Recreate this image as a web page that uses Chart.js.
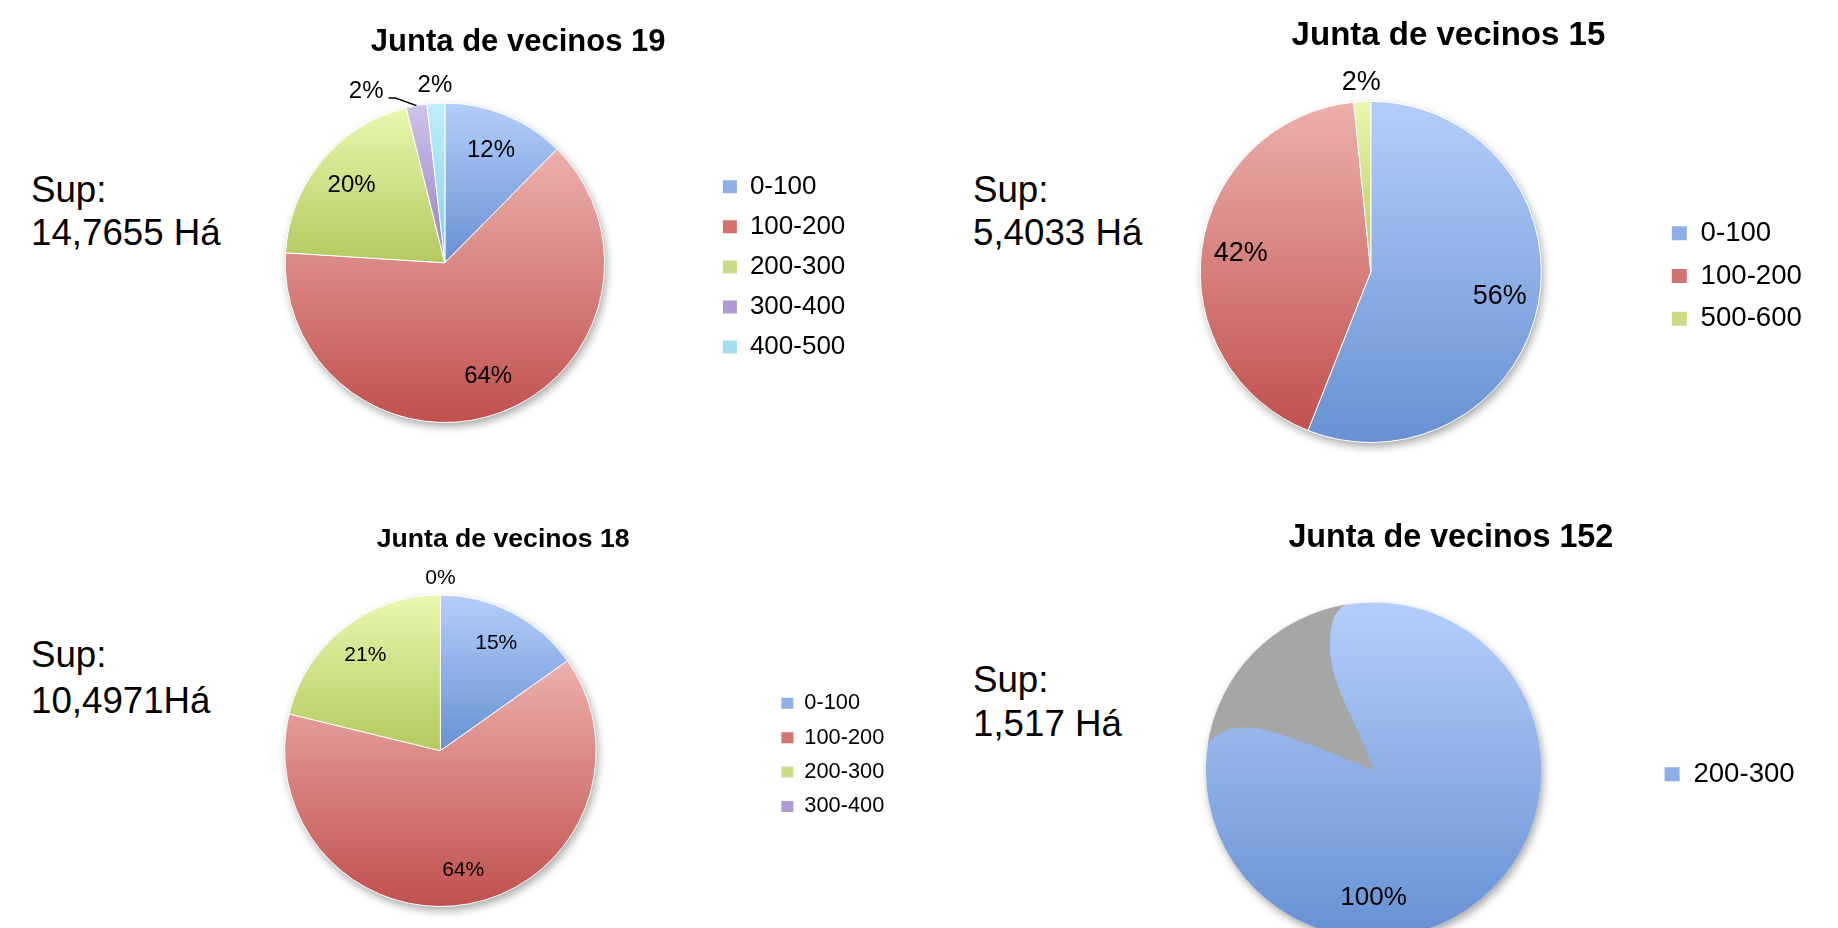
<!DOCTYPE html>
<html>
<head>
<meta charset="utf-8">
<script src="https://cdn.jsdelivr.net/npm/chart.js@4.4.1/dist/chart.umd.min.js"></script>
<style>
  html, body { margin: 0; padding: 0; background: #fff; overflow: hidden; width: 1838px; height: 928px; }
  canvas { position: absolute; }
  .sup { position: absolute; font-family: 'Liberation Sans', Arial, sans-serif; font-size: 36.7px; color: #000; white-space: nowrap; }
</style>
</head>
<body>
<div class="sup" id="sup19" style="left:31px;top:168px;line-height:43px"></div>
<div class="sup" id="sup15" style="left:973px;top:168px;line-height:43px"></div>
<div class="sup" id="sup18" style="left:31px;top:632px;line-height:46px"></div>
<div class="sup" id="sup152" style="left:973px;top:658px;line-height:44px"></div>
<canvas id="c19"></canvas>
<canvas id="c15"></canvas>
<canvas id="c18"></canvas>
<canvas id="c152"></canvas>
<script>
var FONT = "'Liberation Sans', Arial, sans-serif";

// data (percent of surface per range)
var labels19 = ['0-100', '100-200', '200-300', '300-400', '400-500'];
var values19 = [12.4, 63.6, 20.1, 2.1, 1.8];
var labels15 = ['0-100', '100-200', '500-600'];
var values15 = [56.0, 42.4, 1.6];
var labels18 = ['0-100', '100-200', '200-300', '300-400'];
var values18 = [15.2, 63.6, 21.2, 0];
var labels152 = ['200-300'];
var values152 = [100];

var titles = ['Junta de vecinos 19', 'Junta de vecinos 15', 'Junta de vecinos 18', 'Junta de vecinos 152'];
var surfaces = ['14,7655 Há', '5,4033 Há', '10,4971Há', '1,517 Há'];

// light top / dark bottom per series position, plus a flat tone for the legend box
var palette = [
  ['#b4cefa', '#6791d3', '#8eaee6'],
  ['#edb0ad', '#c0504d', '#d4726f'],
  ['#e9f8ae', '#b3c95f', '#cadd86'],
  ['#d0c3eb', '#9480c2', '#ae9bd6'],
  ['#bfeffb', '#84d0e5', '#a3def0']
];

function sum(arr) {
  var t = 0;
  for (var i = 0; i < arr.length; i++) t += arr[i];
  return t;
}

function sliceGradient(context) {
  var i = context.dataIndex;
  var chart = context.chart;
  var area = chart.chartArea;
  if (i === undefined) return palette[0][2];
  var pal = palette[i];
  if (!area) return pal[2];
  var vals = context.dataset.data;
  var total = sum(vals);
  var before = sum(vals.slice(0, i));
  var a0 = before / total * Math.PI * 2;
  var a1 = (before + vals[i]) / total * Math.PI * 2;
  var cx = (area.left + area.right) / 2;
  var cy = (area.top + area.bottom) / 2;
  var r = Math.min(area.right - area.left, area.bottom - area.top) / 2;
  var ys = [cy - r * Math.cos(a0), cy - r * Math.cos(a1)];
  if (a1 - a0 < Math.PI * 2 - 1e-6) ys.push(cy);
  if (a1 >= Math.PI * 2 - 1e-6) ys.push(cy - r);
  if (a0 <= Math.PI && a1 >= Math.PI) ys.push(cy + r);
  var top = Math.min.apply(null, ys);
  var bottom = Math.max.apply(null, ys);
  if (bottom - top < 1) bottom = top + 1;
  var g = chart.ctx.createLinearGradient(0, top, 0, bottom);
  g.addColorStop(0, pal[0]);
  g.addColorStop(1, pal[1]);
  return g;
}

var pieShadow = {
  id: 'pieShadow',
  beforeDatasetsDraw: function(chart) {
    var arc = chart.getDatasetMeta(0).data[0];
    if (!arc) return;
    var p = arc.getProps(['x', 'y', 'outerRadius'], true);
    var ctx = chart.ctx;
    ctx.save();
    ctx.shadowColor = 'rgba(0,0,0,0.35)';
    ctx.shadowBlur = 9;
    ctx.shadowOffsetX = 2;
    ctx.shadowOffsetY = 4;
    ctx.fillStyle = '#fff';
    ctx.beginPath();
    ctx.arc(p.x, p.y, p.outerRadius, 0, Math.PI * 2);
    ctx.fill();
    ctx.restore();
  }
};

// grey fold that the original rendering left on the single-slice pie
var greyFold = {
  id: 'greyFold',
  afterDatasetsDraw: function(chart) {
    if (!chart.options.plugins.greyFold || !chart.options.plugins.greyFold.show) return;
    var arc = chart.getDatasetMeta(0).data[0];
    var p = arc.getProps(['x', 'y', 'outerRadius'], true);
    var R = p.outerRadius;
    function X(u) { return p.x + u * R; }
    function Y(v) { return p.y + v * R; }
    var ctx = chart.ctx;
    ctx.save();
    ctx.fillStyle = '#a6a6a6';
    ctx.beginPath();
    ctx.moveTo(X(0), Y(0));
    ctx.bezierCurveTo(X(-0.1), Y(-0.3), X(-0.26), Y(-0.5), X(-0.26), Y(-0.74));
    ctx.bezierCurveTo(X(-0.26), Y(-0.9), X(-0.22), Y(-0.96), X(-0.16), Y(-0.99));
    ctx.arc(p.x, p.y, R, Math.atan2(-0.99, -0.16), Math.atan2(-0.15, -0.99), true);
    ctx.bezierCurveTo(X(-0.95), Y(-0.23), X(-0.82), Y(-0.27), X(-0.7), Y(-0.25));
    ctx.bezierCurveTo(X(-0.52), Y(-0.22), X(-0.2), Y(-0.08), X(0), Y(0));
    ctx.closePath();
    ctx.fill();
    ctx.restore();
  }
};

var pctLabels = {
  id: 'pctLabels',
  afterDatasetsDraw: function(chart) {
    var opts = chart.options.plugins.pctLabels;
    var meta = chart.getDatasetMeta(0);
    var values = chart.data.datasets[0].data;
    var total = sum(values);
    var ctx = chart.ctx;
    ctx.save();
    ctx.font = opts.size + 'px ' + FONT;
    ctx.fillStyle = '#000';
    ctx.strokeStyle = '#000';
    ctx.lineWidth = 1.5;
    ctx.textAlign = 'center';
    ctx.textBaseline = 'middle';
    var placed = [];
    for (var i = meta.data.length - 1; i >= 0; i--) {
      var p = meta.data[i].getProps(['x', 'y', 'startAngle', 'endAngle', 'outerRadius'], true);
      var share = values[i] / total;
      var text = Math.round(share * 100) + '%';
      var mid = (p.startAngle + p.endAngle) / 2;
      var w = ctx.measureText(text).width;
      var lx, ly;
      if (share < 0.05) {
        lx = p.x + Math.cos(mid) * p.outerRadius * 1.11;
        ly = p.y + Math.sin(mid) * p.outerRadius * 1.11;
        var moved = false;
        for (var k = 0; k < placed.length; k++) {
          var b = placed[k];
          if (Math.abs(b.x - lx) < (b.w + w) / 2 && Math.abs(b.y - ly) < opts.size) {
            lx = b.x - b.w / 2 - 34 - w / 2;
            ly = ly + 3;
            moved = true;
          }
        }
        if (moved) {
          var sy = ly + opts.size * 0.28;
          ctx.beginPath();
          ctx.moveTo(lx + w / 2 + 5, sy);
          ctx.lineTo(lx + w / 2 + 12, sy);
          ctx.lineTo(p.x + Math.cos(mid) * p.outerRadius, p.y + Math.sin(mid) * p.outerRadius);
          ctx.stroke();
        }
        placed.push({x: lx, y: ly, w: w});
      } else {
        lx = p.x + Math.cos(mid) * p.outerRadius * opts.inner;
        ly = p.y + Math.sin(mid) * p.outerRadius * opts.inner;
      }
      ctx.fillText(text, lx, ly);
    }
    ctx.restore();
  }
};

var measureCtx = document.createElement('canvas').getContext('2d');

function makePie(id, labels, values, title, g) {
  var pad = g.legendStep - g.legendSize;
  var chartRight = g.boxX - pad;
  var chartLeft = 2 * g.cx - chartRight;
  measureCtx.font = 'normal ' + g.legendSize + 'px ' + FONT;
  var longest = 0;
  labels.forEach(function(l) { longest = Math.max(longest, measureCtx.measureText(l).width); });
  var legendW = pad + g.boxW + g.legendSize / 2 + longest + 10;
  var titleLine = g.titleSize * 1.2;
  var top = g.titleCy - 10 - titleLine / 2;
  var titleBottomPad = (g.cy - g.r) - (g.titleCy + titleLine / 2);
  var width = chartRight - chartLeft + legendW;
  var height = (g.cy + g.r) - top + 20;

  var canvas = document.getElementById(id);
  canvas.width = Math.round(width);
  canvas.height = Math.round(height);
  canvas.style.left = chartLeft + 'px';
  canvas.style.top = top + 'px';
  canvas.style.width = Math.round(width) + 'px';
  canvas.style.height = Math.round(height) + 'px';

  return new Chart(canvas.getContext('2d'), {
    type: 'pie',
    data: {
      labels: labels,
      datasets: [{
        data: values,
        backgroundColor: sliceGradient,
        borderColor: '#ffffff',
        borderWidth: values.length > 1 ? 1 : 0,
        hoverOffset: 0,
        offset: 0
      }]
    },
    options: {
      responsive: false,
      animation: false,
      events: [],
      layout: { padding: { left: 0, right: Math.round(width) - width, top: 0, bottom: 20 } },
      plugins: {
        title: {
          display: true,
          text: title,
          color: '#000',
          font: { family: FONT, size: g.titleSize, weight: 'bold' },
          padding: { top: 10, bottom: titleBottomPad }
        },
        legend: {
          position: 'right',
          align: 'center',
          fullSize: false,
          title: { display: true, text: ' ', color: '#000', font: { size: 1 }, padding: { top: 0, bottom: 7 } },
          labels: {
            color: '#000',
            boxWidth: g.boxW,
            boxHeight: g.boxH,
            padding: pad,
            font: { family: FONT, size: g.legendSize },
            generateLabels: function(chart) {
              return chart.data.labels.map(function(l, i) {
                return { text: l, fillStyle: palette[i][2], strokeStyle: palette[i][2], fontColor: '#000', lineWidth: 0, hidden: false, index: i };
              });
            }
          }
        },
        tooltip: { enabled: false },
        pctLabels: { size: g.pctSize, inner: g.inner },
        greyFold: { show: !!g.fold }
      }
    },
    plugins: [pieShadow, greyFold, pctLabels]
  });
}

window.onload = function() {
  document.getElementById('sup19').innerHTML = 'Sup:<br>' + surfaces[0];
  document.getElementById('sup15').innerHTML = 'Sup:<br>' + surfaces[1];
  document.getElementById('sup18').innerHTML = 'Sup:<br>' + surfaces[2];
  document.getElementById('sup152').innerHTML = 'Sup:<br>' + surfaces[3];

  makePie('c19', labels19, values19, titles[0],
    { cx: 445, cy: 263, r: 160, boxX: 723, titleCy: 43, titleSize: 31, legendSize: 26, legendStep: 40.1, boxW: 14, boxH: 13, pctSize: 24, inner: 0.76 });
  makePie('c15', labels15, values15, titles[1],
    { cx: 1371, cy: 272, r: 171, boxX: 1672, titleCy: 36, titleSize: 33, legendSize: 27.6, legendStep: 42.8, boxW: 15, boxH: 14, pctSize: 27, inner: 0.77 });
  makePie('c18', labels18, values18, titles[2],
    { cx: 440, cy: 751, r: 156.5, boxX: 781, titleCy: 540, titleSize: 26.6, legendSize: 21.8, legendStep: 34.4, boxW: 12, boxH: 11, pctSize: 21, inner: 0.78 });
  makePie('c152', labels152, values152, titles[3],
    { cx: 1374, cy: 770, r: 168, boxX: 1665, titleCy: 538, titleSize: 32.3, legendSize: 27.6, legendStep: 42, boxW: 15, boxH: 14, pctSize: 26, inner: 0.76, fold: true });
};
</script>
</body>
</html>
